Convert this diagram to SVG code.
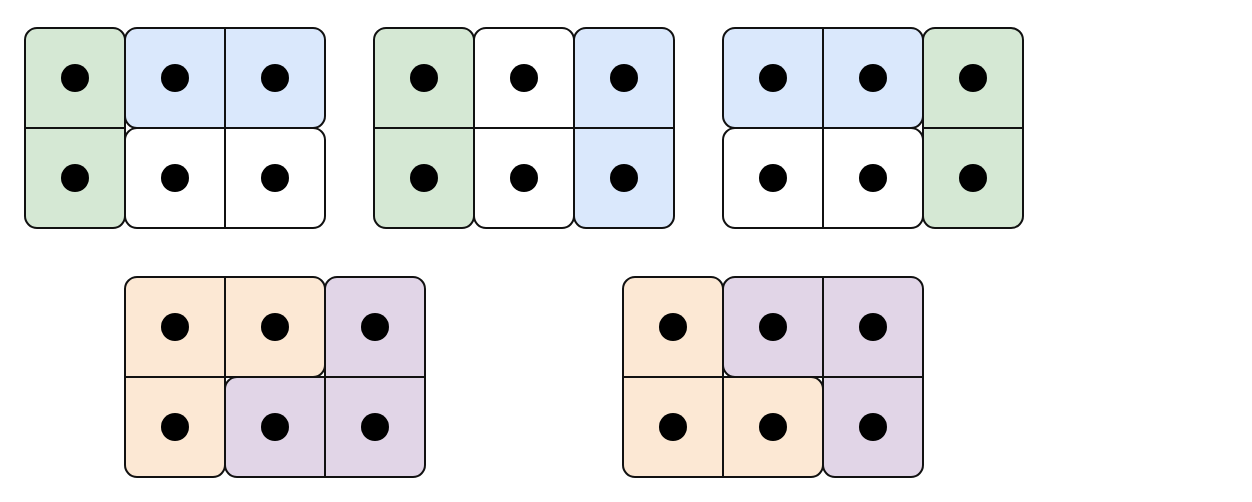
<svg xmlns="http://www.w3.org/2000/svg" width="1252" height="502" viewBox="0 0 1252 502">
<style>
.p{stroke:#111;stroke-width:2;stroke-linejoin:round}
.g{fill:#d5e8d4}.b{fill:#dae8fc}.w{fill:#ffffff}.o{fill:#fce8d4}.v{fill:#e1d5e7}
.l{stroke:#111;stroke-width:2;fill:none}
.d{fill:#000}
</style>
<rect width="1252" height="502" fill="#fff"/>
<g id="grid1">
<rect class="p g" x="25" y="28" width="100" height="200" rx="12"/>
<rect class="p b" x="125" y="28" width="200" height="100" rx="12"/>
<rect class="p w" x="125" y="128" width="200" height="100" rx="12"/>
<path class="l" d="M25,128H125M225,28V128M225,128V228"/>
<circle class="d" cx="75" cy="78" r="14"/><circle class="d" cx="175" cy="78" r="14"/><circle class="d" cx="275" cy="78" r="14"/>
<circle class="d" cx="75" cy="178" r="14"/><circle class="d" cx="175" cy="178" r="14"/><circle class="d" cx="275" cy="178" r="14"/>
</g>
<g id="grid2">
<rect class="p g" x="374" y="28" width="100" height="200" rx="12"/>
<rect class="p w" x="474" y="28" width="100" height="200" rx="12"/>
<rect class="p b" x="574" y="28" width="100" height="200" rx="12"/>
<path class="l" d="M374,128H674"/>
<circle class="d" cx="424" cy="78" r="14"/><circle class="d" cx="524" cy="78" r="14"/><circle class="d" cx="624" cy="78" r="14"/>
<circle class="d" cx="424" cy="178" r="14"/><circle class="d" cx="524" cy="178" r="14"/><circle class="d" cx="624" cy="178" r="14"/>
</g>
<g id="grid3">
<rect class="p b" x="723" y="28" width="200" height="100" rx="12"/>
<rect class="p w" x="723" y="128" width="200" height="100" rx="12"/>
<rect class="p g" x="923" y="28" width="100" height="200" rx="12"/>
<path class="l" d="M823,28V228M923,128H1023"/>
<circle class="d" cx="773" cy="78" r="14"/><circle class="d" cx="873" cy="78" r="14"/><circle class="d" cx="973" cy="78" r="14"/>
<circle class="d" cx="773" cy="178" r="14"/><circle class="d" cx="873" cy="178" r="14"/><circle class="d" cx="973" cy="178" r="14"/>
</g>
<g id="grid4">
<path class="p o" d="M125,289A12,12 0 0 1 137,277H313A12,12 0 0 1 325,289V365A12,12 0 0 1 313,377H225V465A12,12 0 0 1 213,477H137A12,12 0 0 1 125,465Z"/>
<path class="p v" d="M325,289A12,12 0 0 1 337,277H413A12,12 0 0 1 425,289V465A12,12 0 0 1 413,477H237A12,12 0 0 1 225,465V389A12,12 0 0 1 237,377H325Z"/>
<path class="l" d="M225,277V377M125,377H225M325,377V477M325,377H425"/>
<circle class="d" cx="175" cy="327" r="14"/><circle class="d" cx="275" cy="327" r="14"/><circle class="d" cx="375" cy="327" r="14"/>
<circle class="d" cx="175" cy="427" r="14"/><circle class="d" cx="275" cy="427" r="14"/><circle class="d" cx="375" cy="427" r="14"/>
</g>
<g id="grid5">
<path class="p o" d="M623,289A12,12 0 0 1 635,277H711A12,12 0 0 1 723,289V377H811A12,12 0 0 1 823,389V465A12,12 0 0 1 811,477H635A12,12 0 0 1 623,465Z"/>
<path class="p v" d="M723,289A12,12 0 0 1 735,277H911A12,12 0 0 1 923,289V465A12,12 0 0 1 911,477H835A12,12 0 0 1 823,465V377H735A12,12 0 0 1 723,365Z"/>
<path class="l" d="M623,377H723M723,377V477M823,277V377M823,377H923"/>
<circle class="d" cx="673" cy="327" r="14"/><circle class="d" cx="773" cy="327" r="14"/><circle class="d" cx="873" cy="327" r="14"/>
<circle class="d" cx="673" cy="427" r="14"/><circle class="d" cx="773" cy="427" r="14"/><circle class="d" cx="873" cy="427" r="14"/>
</g>
<g id="connectors"/>
</svg>
